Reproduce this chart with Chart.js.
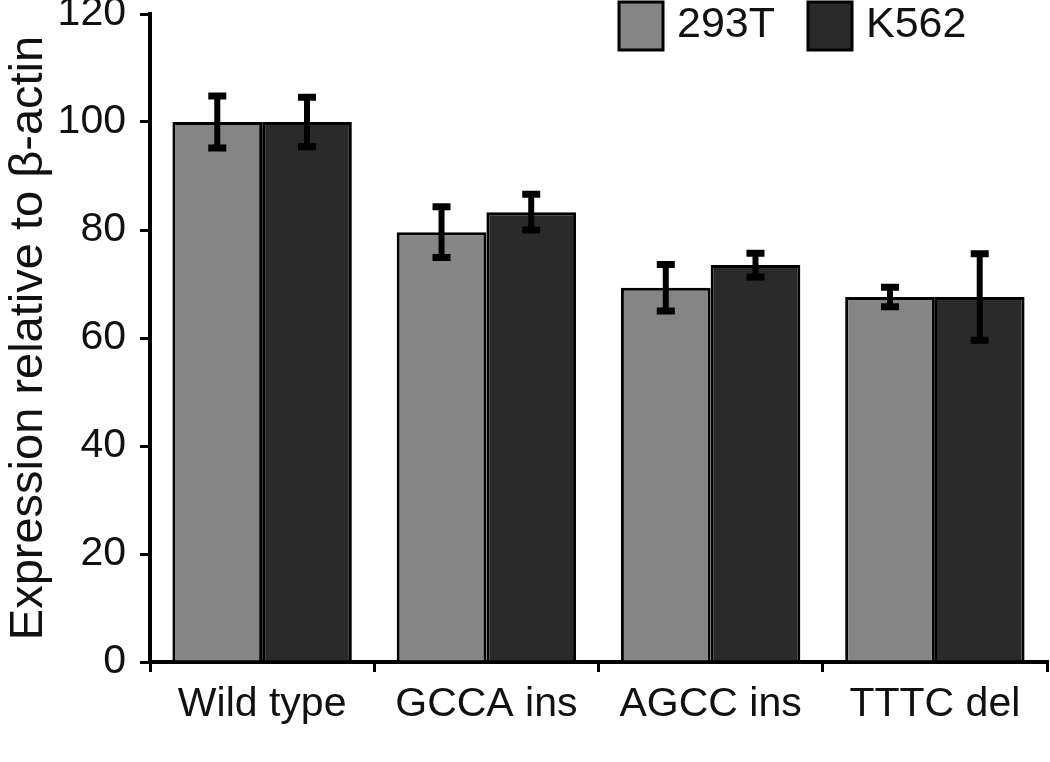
<!DOCTYPE html>
<html>
<head>
<meta charset="utf-8">
<script src="https://cdn.jsdelivr.net/npm/chart.js@4"></script>
<style>
  html, body { margin: 0; padding: 0; background: #fff; }
  #wrap { width: 1050px; height: 762px; }
</style>
</head>
<body>
<div id="wrap"><canvas id="exprChart" width="1050" height="762"></canvas></div>
<script>
// values
const categories = ['Wild type', 'GCCA ins', 'AGCC ins', 'TTTC del'];
const seriesNames = ['293T', 'K562'];
const values293T = [100, 79.6, 69.3, 67.6];
const errors293T = [4.8, 4.7, 4.3, 1.8];
const valuesK562 = [100, 83.3, 73.5, 67.6];
const errorsK562 = [4.6, 3.3, 2.2, 8.0];
const yMin = 0, yMax = 120, yStep = 20;

const FONT = "'Liberation Sans', Arial, sans-serif";

// error bars drawn from the errors arrays through the y scale
const errorBars = {
    id: 'errorBars',
    afterDatasetsDraw(chart) {
        const ctx = chart.ctx;
        const y = chart.scales.y;
        ctx.save();
        ctx.strokeStyle = '#000';
        chart.data.datasets.forEach((ds, di) => {
            const meta = chart.getDatasetMeta(di);
            meta.data.forEach((bar, i) => {
                const v = ds.data[i], e = ds.errors[i];
                const top = y.getPixelForValue(v + e);
                const bot = y.getPixelForValue(v - e);
                ctx.lineWidth = 6;
                ctx.beginPath();
                ctx.moveTo(bar.x, top);
                ctx.lineTo(bar.x, bot);
                ctx.stroke();
                ctx.lineWidth = 7;
                ctx.beginPath();
                ctx.moveTo(bar.x - 9, top);
                ctx.lineTo(bar.x + 9, top);
                ctx.moveTo(bar.x - 9, bot);
                ctx.lineTo(bar.x + 9, bot);
                ctx.stroke();
            });
        });
        ctx.restore();
    }
};

// legend with large square swatches in the top right corner
const boxLegend = {
    id: 'boxLegend',
    afterDraw(chart) {
        const ctx = chart.ctx;
        const starts = [619, 808];
        ctx.save();
        ctx.font = '43px ' + FONT;
        ctx.textBaseline = 'middle';
        chart.data.datasets.forEach((ds, i) => {
            const x = starts[i];
            ctx.fillStyle = ds.backgroundColor;
            ctx.fillRect(x, 2, 44, 48);
            ctx.lineWidth = 3;
            ctx.strokeStyle = '#000';
            ctx.strokeRect(x, 2, 44, 48);
            ctx.fillStyle = '#111';
            ctx.fillText(ds.label, x + 58, 25);
        });
        ctx.restore();
    }
};

new Chart(document.getElementById('exprChart'), {
    type: 'bar',
    data: {
        labels: categories,
        datasets: [
            {
                label: seriesNames[0],
                data: values293T,
                errors: errors293T,
                backgroundColor: '#858585',
                borderColor: '#000',
                borderWidth: 3
            },
            {
                label: seriesNames[1],
                data: valuesK562,
                errors: errorsK562,
                backgroundColor: '#2a2a2a',
                borderColor: '#000',
                borderWidth: 3
            }
        ]
    },
    options: {
        responsive: false,
        animation: false,
        layout: { padding: { top: 14, right: 3, left: 0, bottom: 0 } },
        datasets: { bar: { categoryPercentage: 0.8, barPercentage: 1.0 } },
        plugins: {
            legend: { display: false },
            tooltip: { enabled: false }
        },
        scales: {
            x: {
                grid: {
                    display: true,
                    drawOnChartArea: false,
                    drawTicks: true,
                    tickLength: 10,
                    color: '#000',
                    lineWidth: 3,
                    offset: true
                },
                border: { color: '#000', width: 4 },
                ticks: {
                    color: '#111',
                    padding: 8,
                    font: { family: FONT, size: 41 }
                },
                afterFit(scale) { scale.height = 100; }
            },
            y: {
                min: yMin,
                max: yMax,
                grid: {
                    display: true,
                    drawOnChartArea: false,
                    drawTicks: true,
                    tickLength: 10,
                    color: '#000',
                    lineWidth: 3
                },
                border: { color: '#000', width: 4 },
                ticks: {
                    stepSize: yStep,
                    color: '#111',
                    padding: 14,
                    font: { family: FONT, size: 41 }
                },
                title: {
                    display: true,
                    text: 'Expression relative to β-actin',
                    color: '#111',
                    padding: 1,
                    font: { family: FONT, size: 47 }
                },
                afterFit(scale) {
                    scale.width = 150;
                    scale.paddingTop = 0;
                    scale.paddingBottom = 0;
                }
            }
        }
    },
    plugins: [errorBars, boxLegend]
});
</script>
</body>
</html>
